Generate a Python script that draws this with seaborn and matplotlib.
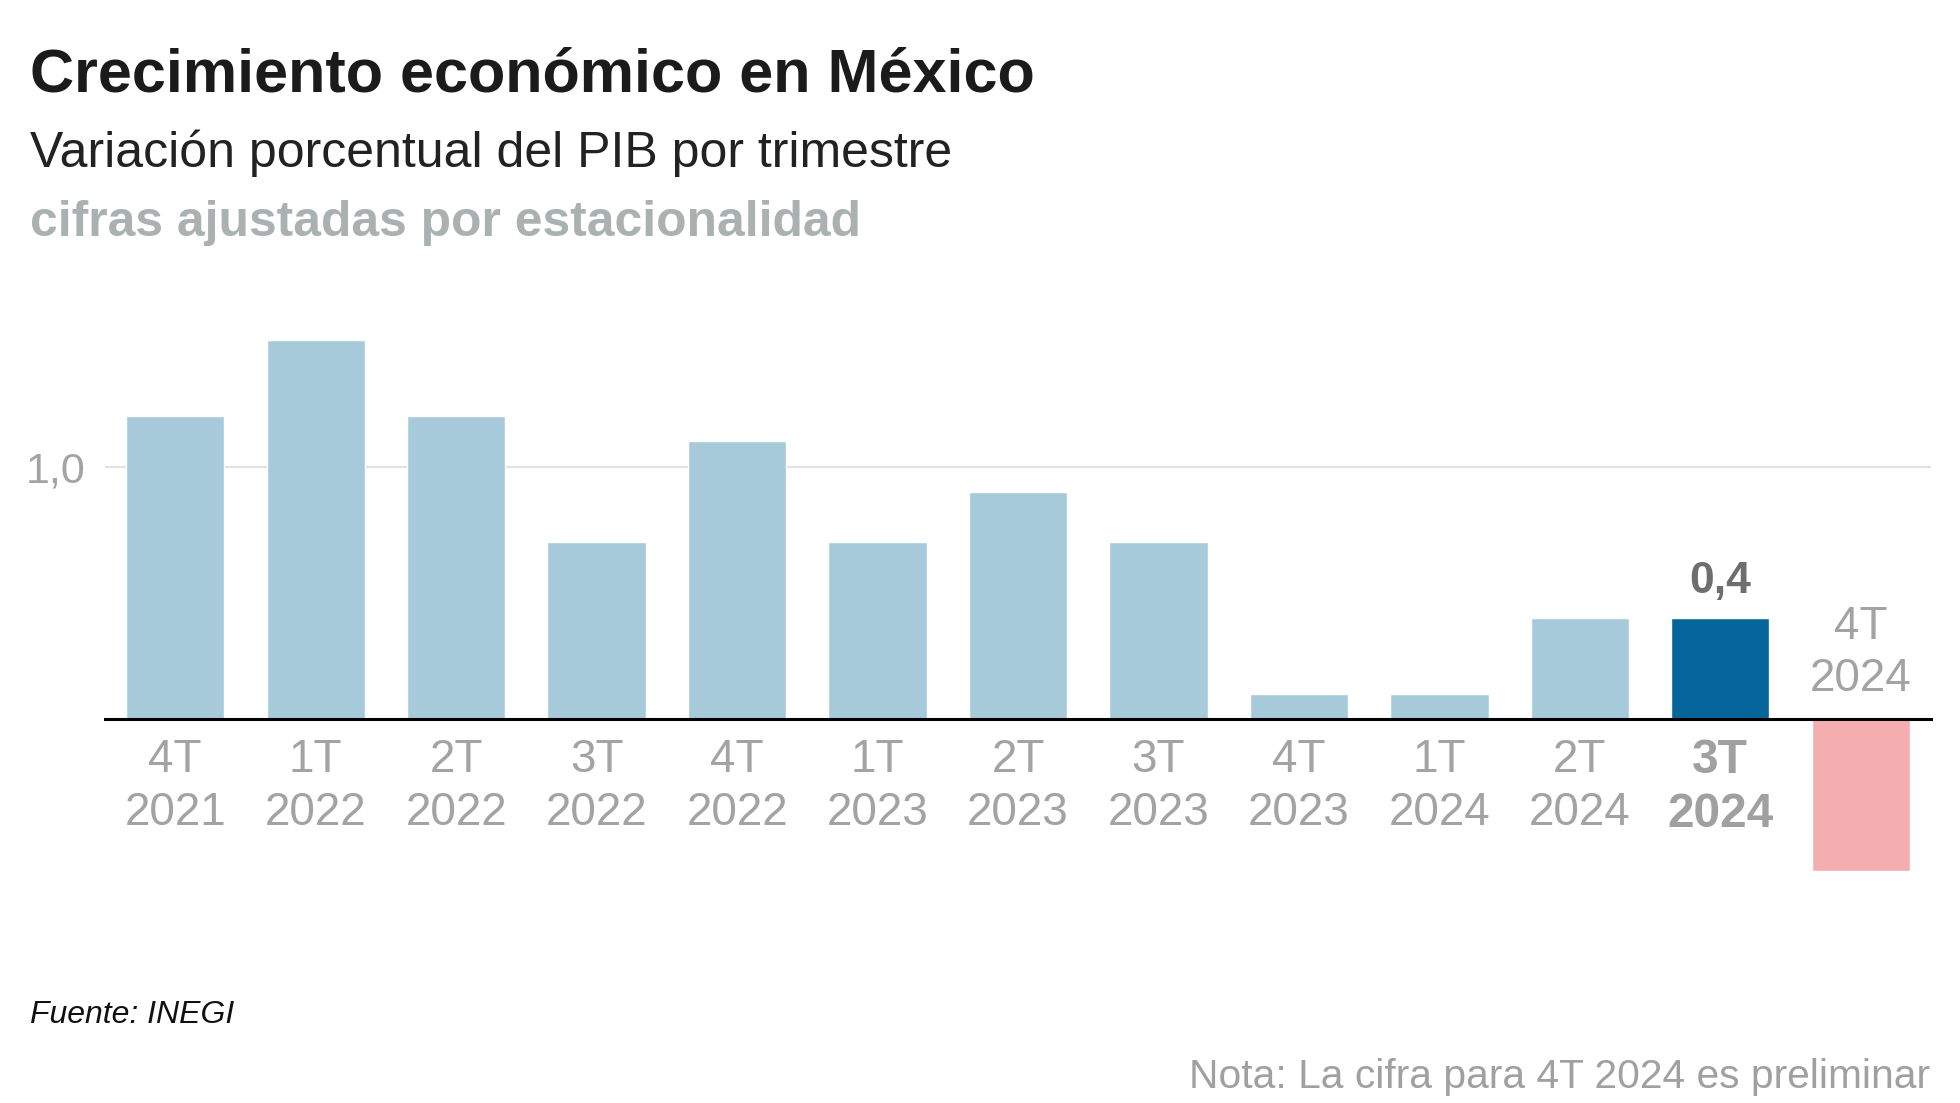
import matplotlib
matplotlib.use("Agg")
import matplotlib.pyplot as plt
import seaborn as sns

# ---- data ----
quarters = ["4T", "1T", "2T", "3T", "4T", "1T", "2T", "3T", "4T", "1T", "2T", "3T", "4T"]
years = ["2021", "2022", "2022", "2022", "2022", "2023", "2023", "2023", "2023",
         "2024", "2024", "2024", "2024"]
values = [1.2, 1.5, 1.2, 0.7, 1.1, 0.7, 0.9, 0.7, 0.1, 0.1, 0.4, 0.4, -0.6]
highlight_label = "3T\n2024"
preliminary_label = "4T\n2024"
grid_values = [1.0]
grid_labels = ["1,0"]

title = "Crecimiento económico en México"
subtitle = "Variación porcentual del PIB por trimestre"
subtitle2 = "cifras ajustadas por estacionalidad"
source = "Fuente: INEGI"
note = "Nota: La cifra para 4T 2024 es preliminar"

# ---- style ----
sns.set_theme(style="white")
plt.rcParams["font.family"] = ["Liberation Sans", "DejaVu Sans"]

C_BASE = "#a7cadb"
C_HIGH = "#05659a"
C_PRELIM = "#f4aeb0"
C_GRAYTXT = "#a3a3a3"

labels = [f"{q}\n{y}" for q, y in zip(quarters, years)]
palette = {}
for lab in labels:
    if lab == highlight_label:
        palette[lab] = C_HIGH
    elif lab == preliminary_label:
        palette[lab] = C_PRELIM
    else:
        palette[lab] = C_BASE

W, H = 1960, 1103
fig = plt.figure(figsize=(W / 100, H / 100), dpi=100)
fig.patch.set_facecolor("white")

ax_left, ax_right, ax_top, ax_bottom = 105, 1931, 315, 921
ax = fig.add_axes([ax_left / W, 1 - ax_bottom / H,
                   (ax_right - ax_left) / W, (ax_bottom - ax_top) / H])

sns.barplot(x=labels, y=values, hue=labels, palette=palette, order=labels,
            hue_order=labels, width=0.7, saturation=1, legend=False, ax=ax)

ax.set_xlim(-0.5, len(labels) - 0.5)
ax.set_ylim(-0.8, 1.6)
for name, s in ax.spines.items():
    s.set_visible(False)
ax.spines["bottom"].set_visible(True)
ax.spines["bottom"].set_position(("data", 0))
ax.spines["bottom"].set_color("black")
ax.spines["bottom"].set_linewidth(2.2)
ax.spines["bottom"].set_zorder(5)
ax.set_xlabel("")
ax.set_ylabel("")

# grid at 1,0
ax.set_yticks(grid_values)
ax.set_yticklabels(grid_labels, fontsize=31, color=C_GRAYTXT)
ax.tick_params(axis="y", length=0, pad=14)
ax.yaxis.grid(True, color="#e2e2e2", lw=1.6)
ax.set_axisbelow(True)

# x tick labels
idx_high = labels.index(highlight_label)
idx_pre = labels.index(preliminary_label)
ax.set_xticks(range(len(labels)))
shown = [lab if i != idx_pre else "" for i, lab in enumerate(labels)]
ax.set_xticklabels(shown, fontsize=33, color=C_GRAYTXT, linespacing=1.24)
ax.tick_params(axis="x", length=0, pad=14)
for i, t in enumerate(ax.get_xticklabels()):
    if i == idx_high:
        t.set_fontweight("bold")
        t.set_fontsize(34.5)
        t.set_color("#a0a0a0")

# preliminary label above axis
ax.annotate(preliminary_label, xy=(idx_pre, 0), xytext=(0, 13),
            textcoords="offset points", ha="center", va="bottom",
            fontsize=33, color=C_GRAYTXT, linespacing=1.24)

# value label for highlighted bar
v = values[idx_high]
ax.annotate(f"{v:.1f}".replace(".", ","), xy=(idx_high, v), xytext=(0, 18),
            textcoords="offset points", ha="center", va="baseline",
            fontsize=32, fontweight="bold", color="#6e6e6e")

# ---- headings ----
fig.text(30 / W, 1 - 92 / H, title, fontsize=44, fontweight="bold",
         color="#1b1b1b", va="baseline", ha="left")
fig.text(30 / W, 1 - 167 / H, subtitle, fontsize=36, color="#222222",
         va="baseline", ha="left")
fig.text(30 / W, 1 - 236 / H, subtitle2, fontsize=35.8, fontweight="bold",
         color="#a9b1b1", va="baseline", ha="left")

# ---- footer ----
fig.text(30 / W, 1 - 1023 / H, source, fontsize=23, fontstyle="italic",
         color="#111111", va="baseline", ha="left")
fig.text(1930 / W, 1 - 1088 / H, note, fontsize=29.3, color="#a0a0a0",
         va="baseline", ha="right")

fig.savefig("out.png", dpi=100, facecolor="white")
